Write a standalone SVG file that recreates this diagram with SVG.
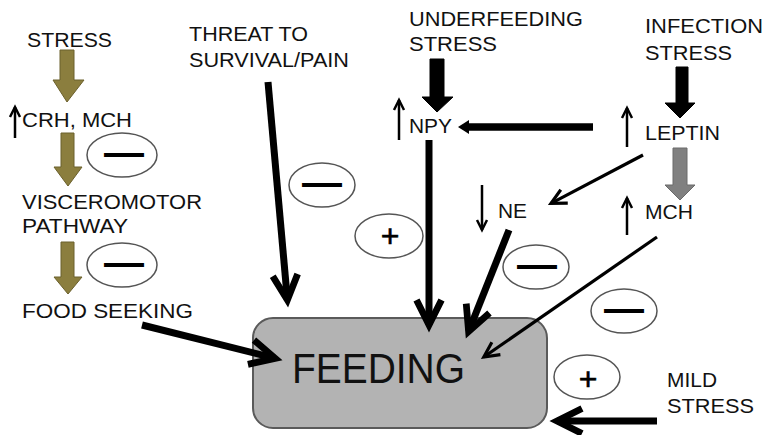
<svg xmlns="http://www.w3.org/2000/svg" width="765" height="435" viewBox="0 0 765 435">
  <style>
    .lbl { font-family: "Liberation Sans", Arial, sans-serif; font-size: 20px; fill: #111; }
    .big { font-family: "Liberation Sans", Arial, sans-serif; font-size: 42px; fill: #111; }
    .sign { fill: #fff; stroke: #555; stroke-width: 1.5; }
    .sym { font-family: "Liberation Sans", Arial, sans-serif; font-weight: bold; fill: #000; text-anchor: middle; }
    .plus { font-family: "Liberation Sans", Arial, sans-serif; fill: #000; stroke: #000; stroke-width: 0.6; text-anchor: middle; }
    .thick { stroke: #000; stroke-width: 7; fill: none; marker-end: url(#hThick); }
    .thin { stroke: #000; stroke-width: 3.2; fill: none; marker-end: url(#hThin); }
    .tiny { stroke: #000; stroke-width: 2.5; fill: none; marker-end: url(#hTiny); }
    .olive { fill: #8b7e3e; stroke: #6b602c; stroke-width: 1; }
    .blk { fill: #000; stroke: #000; stroke-width: 1; }
    .gry { fill: #808080; stroke: #6a6a6a; stroke-width: 1; }
    marker { overflow: visible; }
  </style>
  <defs>
    <marker id="hThick" viewBox="0 0 12 12" refX="11" refY="6" markerWidth="30" markerHeight="30" markerUnits="userSpaceOnUse" orient="auto">
      <path d="M1,1 L11,6 L1,11" fill="none" stroke="#000" stroke-width="2.7"/>
    </marker>
    <marker id="hThin" viewBox="0 0 12 12" refX="11" refY="6" markerWidth="18" markerHeight="18" markerUnits="userSpaceOnUse" orient="auto">
      <path d="M1,1 L11,6 L1,11" fill="none" stroke="#000" stroke-width="2.1"/>
    </marker>
    <marker id="hTiny" viewBox="0 0 12 12" refX="11" refY="6" markerWidth="12" markerHeight="12" markerUnits="userSpaceOnUse" orient="auto">
      <path d="M1,1 L11,6 L1,11" fill="none" stroke="#000" stroke-width="2.5"/>
    </marker>
  </defs>

  <rect width="765" height="435" fill="#fff"/>

  <!-- left column: stress cascade -->
  <g id="stress-left">
    <text class="lbl" x="27" y="47" textLength="85" lengthAdjust="spacingAndGlyphs">STRESS</text>
  </g>
  <g id="crh-mch">
    <text class="lbl" x="22" y="127" textLength="110" lengthAdjust="spacingAndGlyphs">CRH, MCH</text>
  </g>
  <g id="visceromotor">
    <text class="lbl" x="22" y="209" textLength="180" lengthAdjust="spacingAndGlyphs">VISCEROMOTOR</text>
    <text class="lbl" x="22" y="233" textLength="106" lengthAdjust="spacingAndGlyphs">PATHWAY</text>
  </g>
  <g id="food-seeking">
    <text class="lbl" x="22" y="318" textLength="171" lengthAdjust="spacingAndGlyphs">FOOD SEEKING</text>
  </g>

  <!-- threat -->
  <g id="threat">
    <text class="lbl" x="189" y="41" textLength="119" lengthAdjust="spacingAndGlyphs">THREAT TO</text>
    <text class="lbl" x="189" y="67" textLength="160" lengthAdjust="spacingAndGlyphs">SURVIVAL/PAIN</text>
  </g>

  <!-- underfeeding / NPY -->
  <g id="underfeeding">
    <text class="lbl" x="409" y="26" textLength="174" lengthAdjust="spacingAndGlyphs">UNDERFEEDING</text>
    <text class="lbl" x="409" y="51" textLength="88" lengthAdjust="spacingAndGlyphs">STRESS</text>
  </g>
  <g id="npy">
    <text class="lbl" x="409" y="133" textLength="43" lengthAdjust="spacingAndGlyphs">NPY</text>
  </g>

  <!-- infection / leptin / MCH / NE -->
  <g id="infection">
    <text class="lbl" x="645" y="33" textLength="118" lengthAdjust="spacingAndGlyphs">INFECTION</text>
    <text class="lbl" x="645" y="60" textLength="87" lengthAdjust="spacingAndGlyphs">STRESS</text>
  </g>
  <g id="leptin">
    <text class="lbl" x="645" y="140" textLength="75" lengthAdjust="spacingAndGlyphs">LEPTIN</text>
  </g>
  <g id="mch">
    <text class="lbl" x="645" y="219" textLength="48" lengthAdjust="spacingAndGlyphs">MCH</text>
  </g>
  <g id="ne">
    <text class="lbl" x="498" y="218" textLength="29" lengthAdjust="spacingAndGlyphs">NE</text>
  </g>

  <!-- mild stress -->
  <g id="mild-stress">
    <text class="lbl" x="667" y="387" textLength="50" lengthAdjust="spacingAndGlyphs">MILD</text>
    <text class="lbl" x="667" y="413" textLength="87" lengthAdjust="spacingAndGlyphs">STRESS</text>
  </g>

  <!-- feeding -->
  <g id="feeding">
    <rect x="253" y="318" width="294" height="110" rx="20" ry="20" fill="#b3b3b3" stroke="#5a5a5a" stroke-width="2"/>
    <text class="big" x="292" y="383" textLength="173" lengthAdjust="spacingAndGlyphs">FEEDING</text>
  </g>

  <!-- inhibition / stimulation signs -->
  <g id="signs">
    <g id="sign-1"><ellipse class="sign" cx="122" cy="155" rx="35" ry="22"/><text class="sym" x="124" y="166" font-size="40">—</text></g>
    <g id="sign-2"><ellipse class="sign" cx="122" cy="265" rx="35" ry="22"/><text class="sym" x="124" y="276" font-size="40">—</text></g>
    <g id="sign-3"><ellipse class="sign" cx="322" cy="185" rx="33" ry="22"/><text class="sym" x="322" y="196" font-size="40">—</text></g>
    <g id="sign-4"><ellipse class="sign" cx="389" cy="236" rx="34" ry="22"/><text class="plus" x="390" y="247" font-size="32">+</text></g>
    <g id="sign-5"><ellipse class="sign" cx="536" cy="267" rx="33" ry="22"/><text class="sym" x="537" y="278" font-size="40">—</text></g>
    <g id="sign-6"><ellipse class="sign" cx="624" cy="311" rx="33" ry="22"/><text class="sym" x="624" y="322" font-size="40">—</text></g>
    <g id="sign-7"><ellipse class="sign" cx="587" cy="377" rx="33" ry="22"/><text class="plus" x="588" y="390" font-size="32">+</text></g>
  </g>

  <g id="connectors">
    <!-- block arrows -->
    <polygon class="olive" points="60,50 74,50 74,80 84,80 67,102 53,80 60,80"/>
    <polygon class="olive" points="61,133 74,133 74,167 82,167 68,186 54,167 61,167"/>
    <polygon class="olive" points="61,242 74,242 74,277 82,277 68,294 54,277 61,277"/>
    <polygon class="blk" points="430,59 444,59 444,97 453,97 437,112 422,97 430,97"/>
    <polygon class="blk" points="676,67 688,67 688,103 695,103 680,118 665,103 676,103"/>
    <polygon class="gry" points="673,148 687,148 687,185 695,185 680,200 665,185 673,185"/>

    <!-- leptin to NPY -->
    <line x1="593" y1="127" x2="468" y2="127" stroke="#000" stroke-width="7.5"/>
    <polygon points="458,127 469,120 469,134" fill="#000"/>

    <!-- thick arrows into feeding -->
    <line class="thick" x1="268" y1="82" x2="287.4" y2="300"/>
    <line class="thick" x1="429" y1="140" x2="429" y2="325"/>
    <line class="thick" x1="509" y1="230" x2="468.6" y2="331.5"/>
    <line class="thick" x1="142" y1="325" x2="275.2" y2="358.3"/>
    <line class="thick" x1="657" y1="421" x2="557" y2="421" stroke-width="8"/>

    <!-- thin arrows -->
    <line class="thin" x1="643" y1="155" x2="551" y2="203.4"/>
    <line class="thin" x1="657" y1="237" x2="483.8" y2="357"/>

    <!-- small level arrows -->
    <line class="tiny" x1="15" y1="138" x2="15" y2="107"/>
    <line class="tiny" x1="399" y1="140" x2="399" y2="100"/>
    <line class="tiny" x1="627" y1="147" x2="627" y2="108"/>
    <line class="tiny" x1="482" y1="185" x2="482" y2="230"/>
    <line class="tiny" x1="627" y1="235" x2="627" y2="198"/>
  </g>
</svg>
